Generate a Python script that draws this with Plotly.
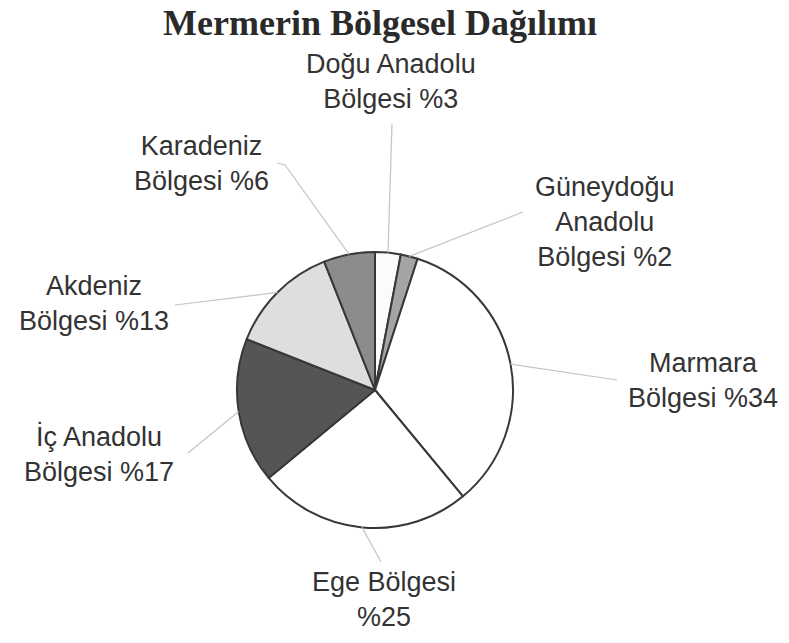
import math
import plotly.graph_objects as go

# ---- data ----
regions = ["Doğu Anadolu Bölgesi", "Güneydoğu Anadolu Bölgesi", "Marmara Bölgesi",
           "Ege Bölgesi", "İç Anadolu Bölgesi", "Akdeniz Bölgesi", "Karadeniz Bölgesi"]
shares = [3, 2, 34, 25, 17, 13, 6]
label_texts = ["Doğu Anadolu<br>Bölgesi %3", "Güneydoğu<br>Anadolu<br>Bölgesi %2",
               "Marmara<br>Bölgesi %34", "Ege Bölgesi<br>%25", "İç Anadolu<br>Bölgesi %17",
               "Akdeniz<br>Bölgesi %13", "Karadeniz<br>Bölgesi %6"]
slice_colors = ["#fbfbfb", "#a4a4a4", "#ffffff", "#ffffff", "#555555", "#dedede", "#8c8c8c"]

# ---- layout (screen pixels; body margin removed via post_script) ----
W, H = 789, 643
cx, cy, R = 375, 390, 138
label_pos = [(391, 81), (605, 222), (703, 380), (384, 599), (99, 454), (94, 304), (201, 164)]
leader_end = [(392, 124), (523, 212), (617, 380), (381, 562), (188, 453), (175, 305), (285, 165)]


def px(x):
    return x / W


def py(y):
    return 1 - y / H


fig = go.Figure(go.Pie(
    labels=regions, values=shares, sort=False, direction="clockwise", rotation=0,
    marker=dict(colors=slice_colors, line=dict(color="#383838", width=2)),
    textinfo="none", hoverinfo="label+percent",
    domain=dict(x=[px(cx - R), px(cx + R)], y=[py(cy + R), py(cy - R)]),
    showlegend=False,
))

total = sum(shares)
cum = 0
shapes = []
annotations = []
for i, v in enumerate(shares):
    mid = (cum + v / 2) / total * 2 * math.pi
    cum += v
    sx = cx + R * math.sin(mid)
    sy = cy - R * math.cos(mid)
    ex, ey = leader_end[i]
    path = f"M {px(sx)} {py(sy)} L {px(ex)} {py(ey)}"
    if i == 6:
        path += f" L {px(ex - 8)} {py(ey - 2)}"
    shapes.append(dict(type="path", xref="paper", yref="paper", path=path,
                       line=dict(color="#c4c4c4", width=1.2)))
    lx, ly = label_pos[i]
    annotations.append(dict(text=label_texts[i], x=px(lx), y=py(ly), xref="paper", yref="paper",
                            xanchor="center", yanchor="middle", showarrow=False, align="center",
                            font=dict(family="Liberation Sans, Arial", size=27, color="#333333")))

fig.update_layout(
    width=W, height=H,
    margin=dict(l=0, r=0, t=0, b=0),
    paper_bgcolor="white", plot_bgcolor="white",
    title=dict(text="<b>Mermerin Bölgesel Dağılımı</b>", x=px(380), y=py(22),
               xanchor="center", yanchor="middle",
               font=dict(family="Liberation Serif, Times New Roman", size=36, color="#2a2a2a")),
    shapes=shapes,
    annotations=annotations,
)

fig.write_html("out.html", config={"displayModeBar": False},
               post_script="document.body.style.margin='0px';document.body.style.overflow='hidden';")
